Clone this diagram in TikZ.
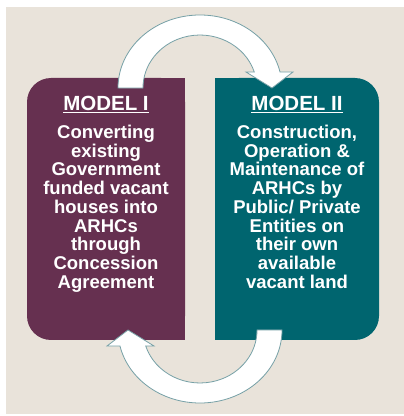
\documentclass[tikz,border=0pt]{standalone}
\usepackage{fontspec}
\setmainfont{Liberation Sans}
\usetikzlibrary{positioning}

\definecolor{modelpurple}{RGB}{102,48,80}
\definecolor{modelteal}{RGB}{0,101,111}
\definecolor{backbeige}{RGB}{233,227,218}
\definecolor{arrowrim}{RGB}{118,160,166}

\tikzset{
  modelbox/.style={rounded corners=24pt, minimum height=262pt, inner sep=0pt},
  modeltitle/.style={text=white, font=\fontsize{20.5}{24}\selectfont\bfseries, anchor=base},
  modeltext/.style={text=white, font=\fontsize{18.5}{18.75}\selectfont\bfseries, align=center, anchor=base},
  cyclearrow/.style={fill=white, draw=arrowrim, line width=0.8pt, line join=miter},
}

\begin{document}
\begin{tikzpicture}[x=1pt, y=1pt]
		\useasboundingbox (0,0) rectangle (404,416);
		% background
		\fill[backbeige] (6,2) rectangle (404,409);

		% model boxes, rounded on the outer side only
		\node[modelbox, fill=modelpurple, minimum width=158pt] (model1) at (106,207) {};
		\fill[modelpurple] (model1.north) rectangle (model1.south east);
		\node[modelbox, fill=modelteal, minimum width=164pt] (model2) at (297,207) {};
		\fill[modelteal] (model2.north west) rectangle (model2.south);

		% circular arrows
		\def\arrowshape{(118,328) arc[start angle=180, end angle=12.7, x radius=82, y radius=73]
			-- (293,344) -- (272,328) -- (246,344) -- (254.3,344)
			arc[start angle=17.6, end angle=180, x radius=57, y radius=53] -- cycle}
		\filldraw[cyclearrow] \arrowshape;
		\filldraw[cyclearrow, rotate around={180:(200,207)}] \arrowshape;

		% texts (base = last line)
		\node[modeltitle] (title1) at (106,305) {\underline{MODEL I}};
		\node[modeltitle] (title2) at (297,305) {\underline{MODEL II}};
		\node[modeltext] (text1) at (106,127.7) {Converting\\existing\\Government\\funded vacant\\houses into\\ARHCs\\through\\Concession\\Agreement};
		\node[modeltext] (text2) at (297,127.7) {Construction,\\Operation \&\\Maintenance of\\ARHCs by\\Public/ Private\\Entities on\\their own\\available\\vacant land};
\end{tikzpicture}
\end{document}
